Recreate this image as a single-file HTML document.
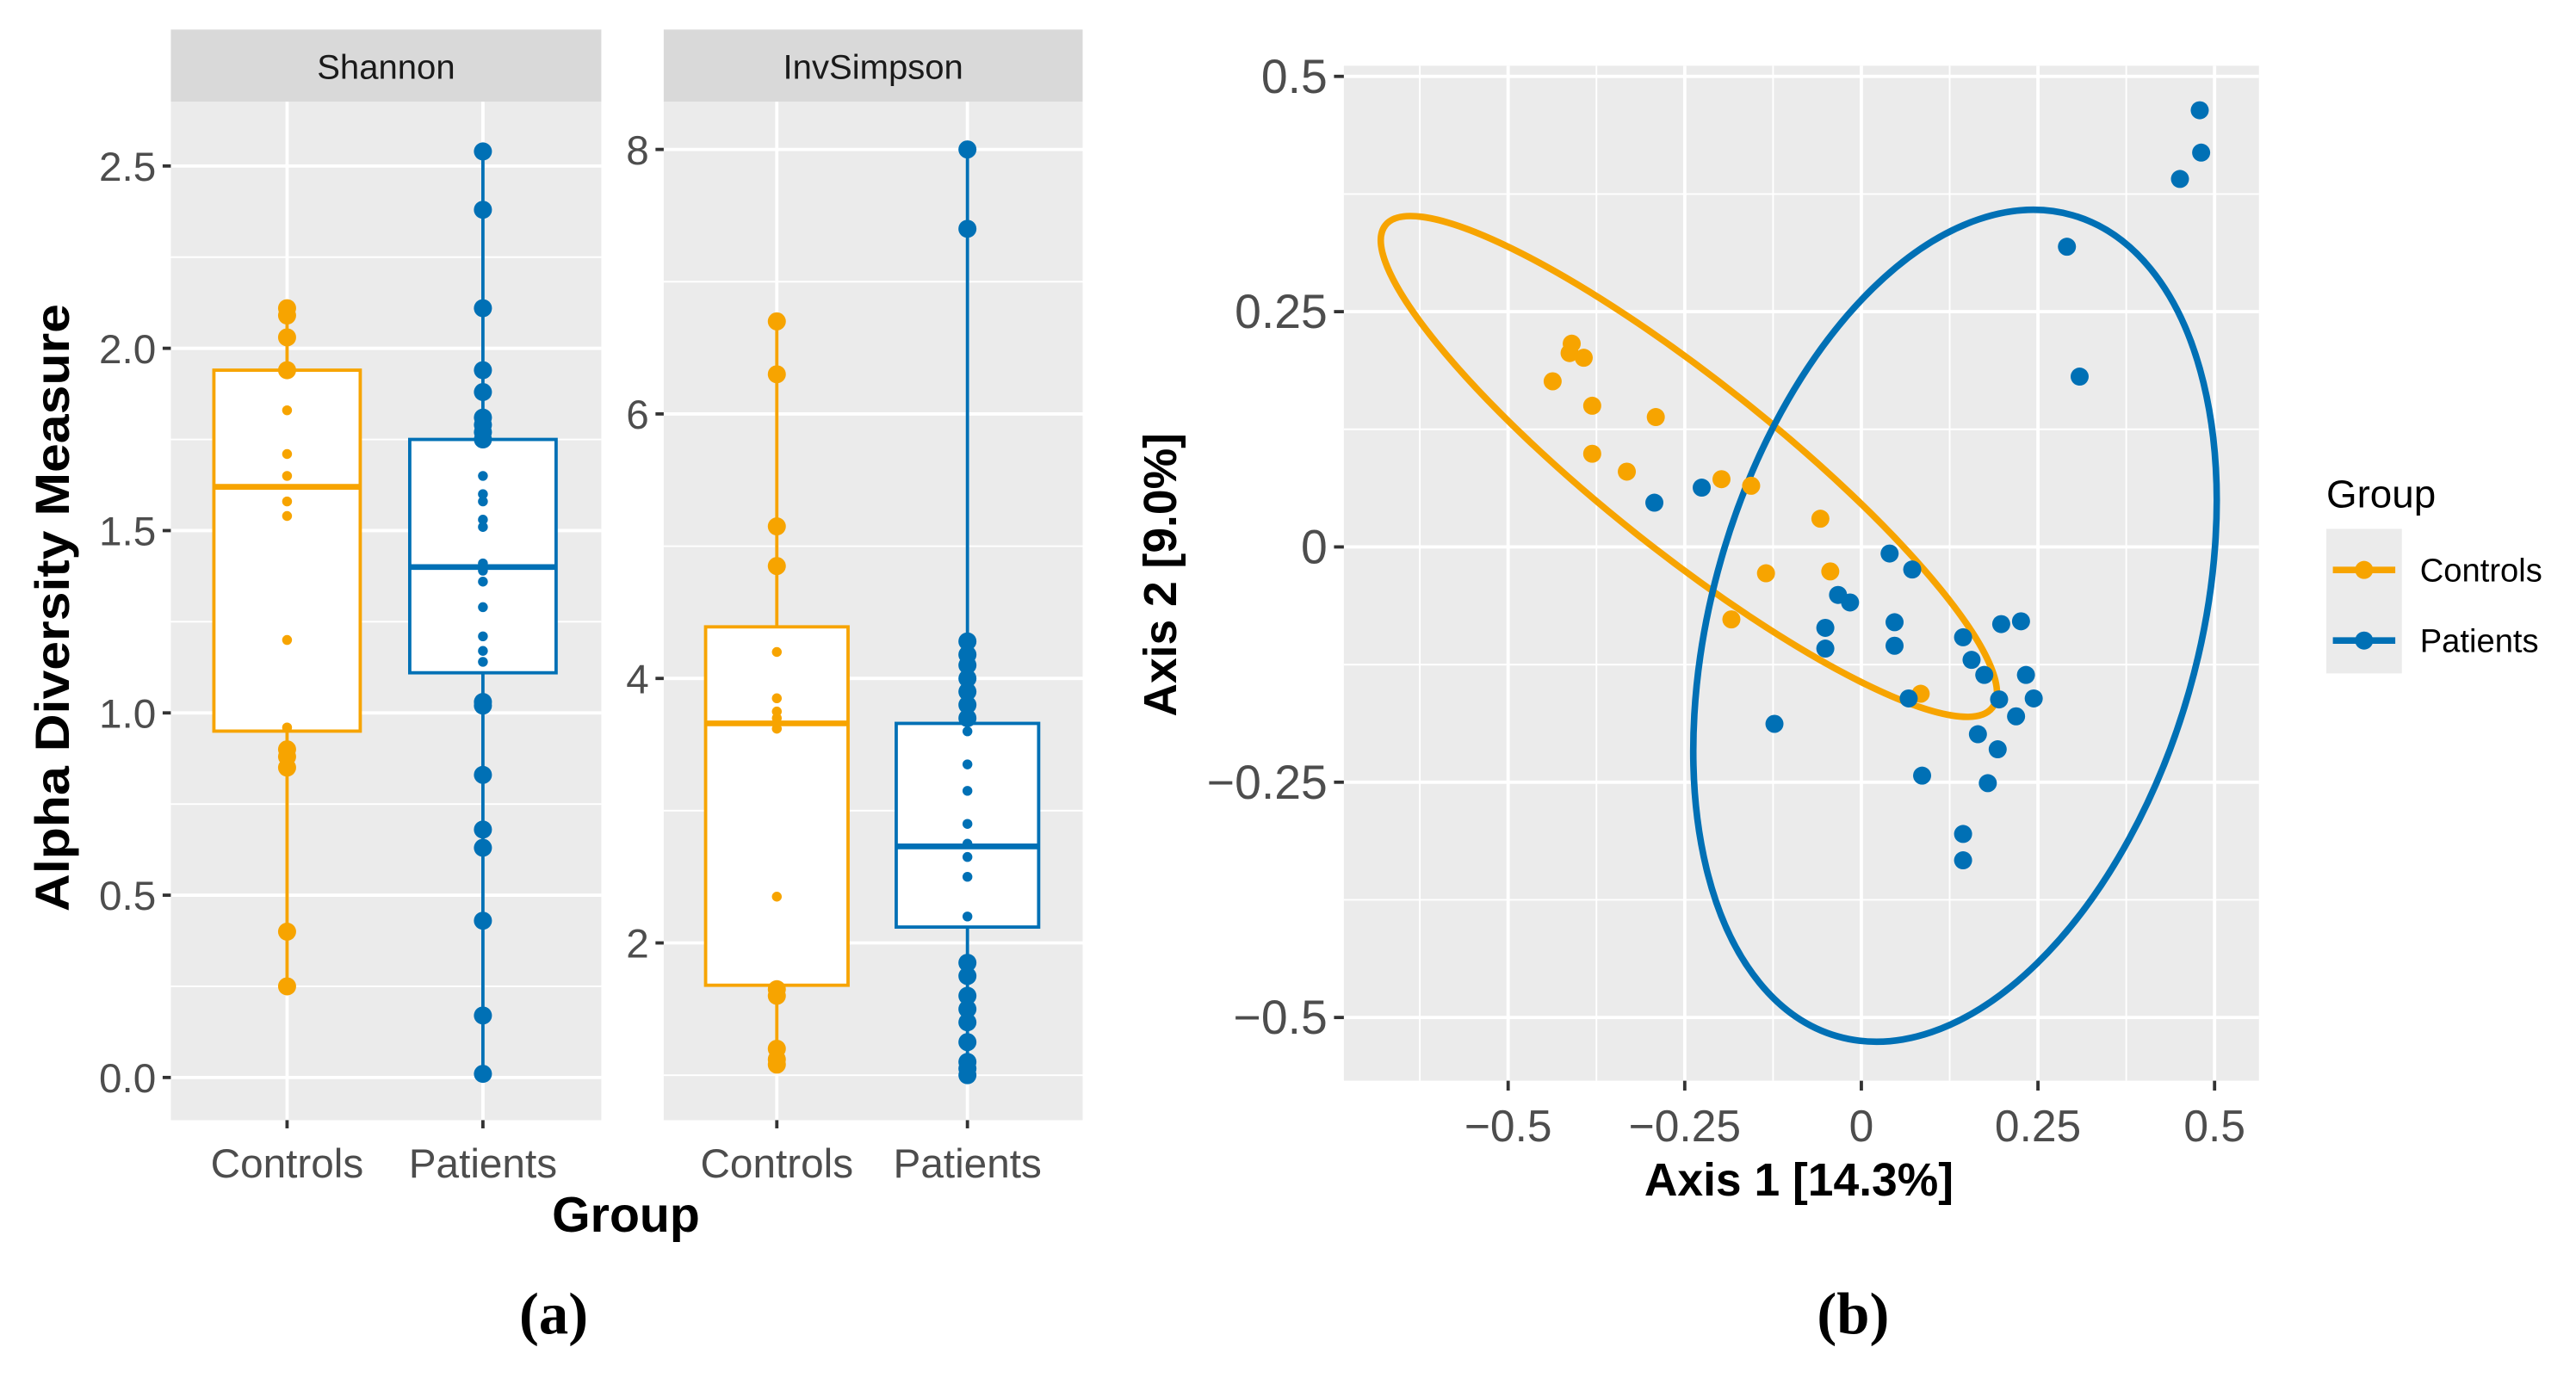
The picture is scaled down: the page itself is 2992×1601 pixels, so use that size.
<!DOCTYPE html>
<html><head><meta charset="utf-8"><style>
html,body{margin:0;padding:0;background:#fff}
svg{display:block}
text{font-family:"Liberation Sans",Arial,sans-serif}
text.serif{font-family:"Liberation Serif","DejaVu Serif",serif}
</style></head><body>
<svg id="fig" width="2992" height="1601" viewBox="0 0 1568 839" preserveAspectRatio="none" xmlns="http://www.w3.org/2000/svg">
<g id="root"></g>
</svg>
<script>
// ---------- Data ----------
const groups = ["Controls","Patients"];
const shannonControls = [2.11,2.09,2.03,1.94,1.83,1.71,1.65,1.58,1.54,1.2,0.96,0.9,0.88,0.85,0.4,0.25];
const shannonPatients = [2.54,2.38,2.11,1.94,1.88,1.81,1.79,1.77,1.75,1.65,1.60,1.58,1.53,1.51,1.41,1.39,1.36,1.29,1.21,1.17,1.14,1.03,1.02,0.83,0.68,0.63,0.43,0.17,0.01];
const invControls = [6.7,6.3,5.15,4.85,4.2,3.85,3.75,3.7,3.62,2.35,1.65,1.6,1.2,1.12,1.08];
const invPatients = [8.0,7.4,4.28,4.18,4.1,4.0,3.9,3.8,3.7,3.6,3.35,3.15,2.9,2.75,2.65,2.5,2.2,1.85,1.75,1.6,1.5,1.4,1.25,1.1,1.05,1.0];
// box stats: [low whisker, q1, median, q3, high whisker]
const shannonBoxControls = [0.25,0.95,1.62,1.94,2.11];
const shannonBoxPatients = [0.01,1.11,1.40,1.75,2.54];
const invBoxControls = [1.08,1.68,3.66,4.39,6.7];
const invBoxPatients = [1.0,2.12,2.73,3.66,8.0];
const shannonTicks = [0,0.5,1.0,1.5,2.0,2.5];
const shannonTickLabels = ["0.0","0.5","1.0","1.5","2.0","2.5"];
const invTicks = [2,4,6,8];
const pcoaXTicks = [-0.5,-0.25,0,0.25,0.5];
const pcoaXLabels = ["\u22120.5","\u22120.25","0","0.25","0.5"];
const pcoaYTicks = [-0.5,-0.25,0,0.25,0.5];
const pcoaYLabels = ["\u22120.5","\u22120.25","0","0.25","0.5"];
const ctrlX = [-0.437,-0.410,-0.413,-0.393,-0.381,-0.381,-0.332,-0.291,-0.198,-0.156,-0.058,-0.135,-0.044,-0.184,0.084];
const ctrlY = [0.176,0.216,0.206,0.201,0.150,0.099,0.080,0.138,0.072,0.065,0.030,-0.028,-0.026,-0.077,-0.156];
const patX = [-0.293,-0.226,-0.123,-0.051,-0.051,-0.033,-0.016,0.040,0.072,0.047,0.047,0.067,0.086,0.144,0.156,0.174,0.165,0.195,0.198,0.226,0.219,0.233,0.244,0.193,0.179,0.144,0.144,0.291,0.309,0.451,0.479,0.481];
const patY = [0.047,0.063,-0.188,-0.086,-0.108,-0.051,-0.059,-0.007,-0.024,-0.080,-0.105,-0.161,-0.243,-0.096,-0.120,-0.136,-0.199,-0.162,-0.082,-0.079,-0.180,-0.136,-0.161,-0.215,-0.251,-0.305,-0.333,0.319,0.181,0.391,0.464,0.419];

const ORANGE="#F7A400", BLUE="#0070B5", PANEL="#EBEBEB", STRIP="#D9D9D9", TXT="#4D4D4D";
const NS="http://www.w3.org/2000/svg";
const root=document.getElementById('root');
function mk(tag,attrs,parent){const e=document.createElementNS(NS,tag);for(const k in attrs)e.setAttribute(k,attrs[k]);(parent||root).appendChild(e);return e;}
function txt(s,attrs,parent){const e=mk('text',attrs,parent);e.textContent=s;return e;}

// ---------- Box panels ----------
function boxPanel(cfg){
  const g=mk('g',{});
  
  
  const {x0,x1,y0,y1,vmin,vmax}=cfg;
  const Y=v=>y1-(v-vmin)/(vmax-vmin)*(y1-y0);
  const xs=[x0+(x1-x0)*0.27, x0+(x1-x0)*0.725];
  const strip=mk('rect',{x:x0,y:18,width:x1-x0,height:y0-18,fill:STRIP},g);
  
  
  const st=txt(cfg.title,{x:(x0+x1)/2,y:48,'text-anchor':'middle','font-size':21,fill:'#1A1A1A'},g);
  
  
  mk('rect',{x:x0,y:y0,width:x1-x0,height:y1-y0,fill:PANEL},g);
  for(let i=0;i<cfg.ticks.length;i++){
    const m=cfg.ticks[i]+cfg.step/2;
    if(m>vmin&&m<vmax) mk('line',{x1:x0,x2:x1,y1:Y(m),y2:Y(m),stroke:'#fff','stroke-width':1},g);
    const m2=cfg.ticks[0]-cfg.step/2;
    if(i===0&&m2>vmin) mk('line',{x1:x0,x2:x1,y1:Y(m2),y2:Y(m2),stroke:'#fff','stroke-width':1},g);
  }
  cfg.ticks.forEach((t,i)=>{
    mk('line',{x1:x0,x2:x1,y1:Y(t),y2:Y(t),stroke:'#fff','stroke-width':2},g);
    mk('line',{x1:x0-5,x2:x0,y1:Y(t),y2:Y(t),stroke:'#333','stroke-width':2},g);
    const tl=txt(cfg.labels[i],{x:x0-9,y:Y(t)+9,'text-anchor':'end','font-size':25,fill:TXT},g);
    
    
  });
  xs.forEach((x,i)=>{
    mk('line',{x1:x,x2:x,y1:y0,y2:y1,stroke:'#fff','stroke-width':2},g);
    mk('line',{x1:x,x2:x,y1:y1,y2:y1+5,stroke:'#333','stroke-width':2},g);
    const xl=txt(groups[i],{x:x,y:717,'text-anchor':'middle','font-size':25,fill:TXT},g);
    
    
  });
  [[cfg.boxC,cfg.ptsC,ORANGE],[cfg.boxP,cfg.ptsP,BLUE]].forEach(([b,pts,col],i)=>{
    const x=xs[i], hw=(x1-x0)*0.17;
    const bg=mk('g',{},g);
    
    
    mk('line',{x1:x,x2:x,y1:Y(b[0]),y2:Y(b[1]),stroke:col,'stroke-width':2},bg);
    mk('line',{x1:x,x2:x,y1:Y(b[3]),y2:Y(b[4]),stroke:col,'stroke-width':2},bg);
    mk('rect',{x:x-hw,y:Y(b[3]),width:2*hw,height:Y(b[1])-Y(b[3]),fill:'#fff',stroke:col,'stroke-width':2},bg);
    mk('line',{x1:x-hw,x2:x+hw,y1:Y(b[2]),y2:Y(b[2]),stroke:col,'stroke-width':3.5},bg);
    pts.forEach(v=>{
      const inside=v>b[1]&&v<b[3];
      const c=mk('circle',{cx:x,cy:Y(v),r:inside?3:5.5,fill:col},bg);
      
      
    });
  });
}
boxPanel({name:'shannon',title:'Shannon',x0:104,x1:366,y0:62,y1:682,vmin:-0.117,vmax:2.676,ticks:shannonTicks,labels:shannonTickLabels,step:0.5,boxC:shannonBoxControls,boxP:shannonBoxPatients,ptsC:shannonControls,ptsP:shannonPatients});
boxPanel({name:'invsimpson',title:'InvSimpson',x0:404,x1:659,y0:62,y1:682,vmin:0.66,vmax:8.36,ticks:invTicks,labels:invTicks.map(String),step:2,boxC:invBoxControls,boxP:invBoxPatients,ptsC:invControls,ptsP:invPatients});

let t=txt('Alpha Diversity Measure',{x:0,y:0,'text-anchor':'middle','font-size':29,'font-weight':'bold',fill:'#000',textLength:370,lengthAdjust:'spacingAndGlyphs',transform:'translate(42,370) rotate(-90)'});


t=txt('Group',{x:381,y:750,'text-anchor':'middle','font-size':30,'font-weight':'bold',fill:'#000'});


t=txt('(a)',{x:337,y:812,'text-anchor':'middle','font-size':36,'font-weight':'bold',fill:'#000',class:'serif'});



// ---------- PCoA ----------
(function(){
  const g=mk('g',{});
  
  
  const px0=818,px1=1375,py0=40,py1=658;
  const X=v=>1133+v*430, Y=v=>333-v*573;
  mk('rect',{x:px0,y:py0,width:px1-px0,height:py1-py0,fill:PANEL},g);
  [-0.625,-0.375,-0.125,0.125,0.375].forEach(v=>mk('line',{x1:X(v),x2:X(v),y1:py0,y2:py1,stroke:'#fff','stroke-width':1},g));
  [-0.375,-0.125,0.125,0.375].forEach(v=>mk('line',{x1:px0,x2:px1,y1:Y(v),y2:Y(v),stroke:'#fff','stroke-width':1},g));
  pcoaXTicks.forEach((v,i)=>{
    mk('line',{x1:X(v),x2:X(v),y1:py0,y2:py1,stroke:'#fff','stroke-width':2},g);
    mk('line',{x1:X(v),x2:X(v),y1:py1,y2:py1+6,stroke:'#333','stroke-width':2},g);
    const l=txt(pcoaXLabels[i],{x:X(v),y:695,'text-anchor':'middle','font-size':27,fill:TXT},g);
    
    
  });
  pcoaYTicks.forEach((v,i)=>{
    mk('line',{x1:px0,x2:px1,y1:Y(v),y2:Y(v),stroke:'#fff','stroke-width':2},g);
    mk('line',{x1:px0-6,x2:px0,y1:Y(v),y2:Y(v),stroke:'#333','stroke-width':2},g);
    const l=txt(pcoaYLabels[i],{x:px0-10,y:Y(v)+10,'text-anchor':'end','font-size':29,fill:TXT},g);
    
    
  });
  let e=mk('ellipse',{cx:1028,cy:284,rx:236,ry:52,transform:'rotate(38.5 1028 284)',fill:'none',stroke:ORANGE,'stroke-width':4},g);
  
  
  e=mk('ellipse',{cx:1190,cy:381,rx:260,ry:148,transform:'rotate(106 1190 381)',fill:'none',stroke:BLUE,'stroke-width':4},g);
  
  
  ctrlX.forEach((v,i)=>{
    const c=mk('circle',{cx:X(v),cy:Y(ctrlY[i]),r:5.5,fill:ORANGE},g);
    
    
  });
  patX.forEach((v,i)=>{
    const c=mk('circle',{cx:X(v),cy:Y(patY[i]),r:5.5,fill:BLUE},g);
    
    
  });
})();
t=txt('Axis 1 [14.3%]',{x:1095,y:728,'text-anchor':'middle','font-size':28,'font-weight':'bold',fill:'#000'});


t=txt('Axis 2 [9.0%]',{x:0,y:0,'text-anchor':'middle','font-size':28,'font-weight':'bold',fill:'#000',transform:'translate(716,350) rotate(-90)'});


t=txt('(b)',{x:1128,y:812,'text-anchor':'middle','font-size':36,'font-weight':'bold',fill:'#000',class:'serif'});



// legend
const lg=mk('g',{});


t=txt('Group',{x:1416,y:309,'font-size':24,fill:'#000'},lg);


mk('rect',{x:1416,y:322,width:46,height:88,fill:PANEL},lg);
[[ORANGE,'Controls',347],[BLUE,'Patients',390]].forEach(([c,l,y])=>{
  const eg=mk('g',{},lg);
  
  
  mk('line',{x1:1420,x2:1458,y1:y,y2:y,stroke:c,'stroke-width':4},eg);
  mk('circle',{cx:1439,cy:y,r:5.5,fill:c},eg);
  txt(l,{x:1473,y:y+7,'font-size':20,fill:'#000'},eg);
});
</script>
</body></html>
